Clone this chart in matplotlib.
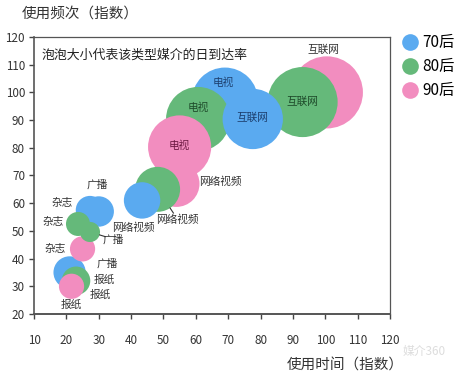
import numpy as np
import matplotlib
matplotlib.use("Agg")
import matplotlib.pyplot as plt
import matplotlib.transforms as mtransforms
from matplotlib.lines import Line2D

plt.rcParams['font.family'] = ['Noto Sans CJK SC', 'DejaVu Sans']

# data
media = ["报纸", "杂志", "广播", "网络视频", "电视", "互联网"]
groups = ["70后", "80后", "90后"]
colors = ["#5aaaf0", "#65b97a", "#f28dbf"]
text_colors = ["#1d3f6e", "#1e4a2a", "#6a1840"]

use_time = {
    "70后": [21, 27.3, 30, 43.4, 69, 77.6],
    "80后": [23, 23.6, 27.3, 48.2, 60.7, 93],
    "90后": [21.6, 25, 25, 54, 55, 100.5],
}
use_freq = {
    "70后": [35, 57.5, 57, 61, 97, 90.4],
    "80后": [32, 52.5, 49.6, 65, 90.4, 96.5],
    "90后": [30, 43.5, 42, 67, 80.3, 100],
}
reach = {
    "70后": [18, 14, 16, 23, 76, 63],
    "80后": [14, 10, 7, 35, 71, 85],
    "90后": [11, 11, 4, 37, 69, 90],
}

# label offsets (pixels) from bubble centre, and whether text sits inside the bubble
label_off = {
    "70后": [(35, -7), (-28, 7), (-2, 27), (-9, -27), (-2, 18), (0, 1)],
    "80后": [(24, -14), (-25, 2), (23, -7), (20, -30), (0, 11), (0, 0)],
    "90后": [(0, -19), (-27, 0), (25, -10), (44, 2), (0, 1), (-3, 43)],
}
inside = {
    "70后": [False, False, False, False, True, True],
    "80后": [False, False, False, False, True, True],
    "90后": [False, False, False, False, True, False],
}
leader = {
    "80后": ["广播", "网络视频"],
}

fig = plt.figure(figsize=(4.58, 3.75), dpi=100)
ax = fig.add_axes([0.0742, 0.1627, 0.7773, 0.7387])
ax.set_xlim(10, 120)
ax.set_ylim(20, 120)

px2pt = 72 / fig.dpi
k = 3.8 * 2 * px2pt  # diameter in points per sqrt(reach)

xs, ys, ss, cs = [], [], [], []
for g, c in zip(groups, colors):
    for i in range(len(media)):
        xs.append(use_time[g][i])
        ys.append(use_freq[g][i])
        ss.append(reach[g][i] * k ** 2)
        cs.append(c)
order = np.argsort(ss)[::-1]
ax.scatter(np.array(xs)[order], np.array(ys)[order], s=np.array(ss)[order],
           c=np.array(cs)[order], edgecolors="none", zorder=2)

for g, tc in zip(groups, text_colors):
    for i, m in enumerate(media):
        dx, dy = label_off[g][i]
        col = tc if inside[g][i] else "#333333"
        ax.annotate(m, (use_time[g][i], use_freq[g][i]), xytext=(dx, dy),
                    textcoords="offset pixels", ha="center", va="center",
                    fontsize=7.7, color=col, zorder=3)
        if m in leader.get(g, []):
            r = 3.8 * np.sqrt(reach[g][i])
            d = np.array([dx, dy], dtype=float)
            d /= np.hypot(*d)
            cx, cy = ax.transData.transform((use_time[g][i], use_freq[g][i]))
            tr = mtransforms.Affine2D().translate(cx, cy)
            ax.add_line(Line2D([d[0] * r, d[0] * (r + 6)], [d[1] * r, d[1] * (r + 6)],
                               transform=tr, color="#333333", lw=0.8, zorder=3))

ax.set_xticks(np.arange(10, 121, 10))
ax.set_yticks(np.arange(20, 121, 10))
ax.tick_params(direction="out", length=3.5, width=1, colors="#444444",
               labelsize=8.4, labelcolor="#333333", pad=3)
ax.tick_params(axis="x", pad=11)
ax.tick_params(top=False, right=False)
for sp in ax.spines.values():
    sp.set_color("#555555")
    sp.set_linewidth(0.9)
ax.spines["bottom"].set_linewidth(1.4)
ax.spines["left"].set_linewidth(1.2)

ax.text(0.02, 0.935, "泡泡大小代表该类型媒介的日到达率", transform=ax.transAxes,
        fontsize=9.3, color="#222222", va="center", ha="left")

fig.text(0.048, 0.965, "使用频次（指数）", fontsize=10.5, color="#333333",
         va="center", ha="left")
fig.text(0.627, 0.024, "使用时间（指数）", fontsize=10.5, color="#333333",
         va="center", ha="left")
fig.text(0.878, 0.062, "媒介360", fontsize=8.5, color="#dddddd",
         va="center", ha="left")

handles = [Line2D([], [], marker="o", linestyle="none", markersize=12,
                  markerfacecolor=c, markeredgecolor="none") for c in colors]
fig.legend(handles, groups, loc="upper left", bbox_to_anchor=(0.862, 0.925),
           frameon=False, fontsize=11, handletextpad=0.2, labelspacing=0.45,
           borderaxespad=0, handlelength=1.2)

fig.savefig("out.png", dpi=100)
